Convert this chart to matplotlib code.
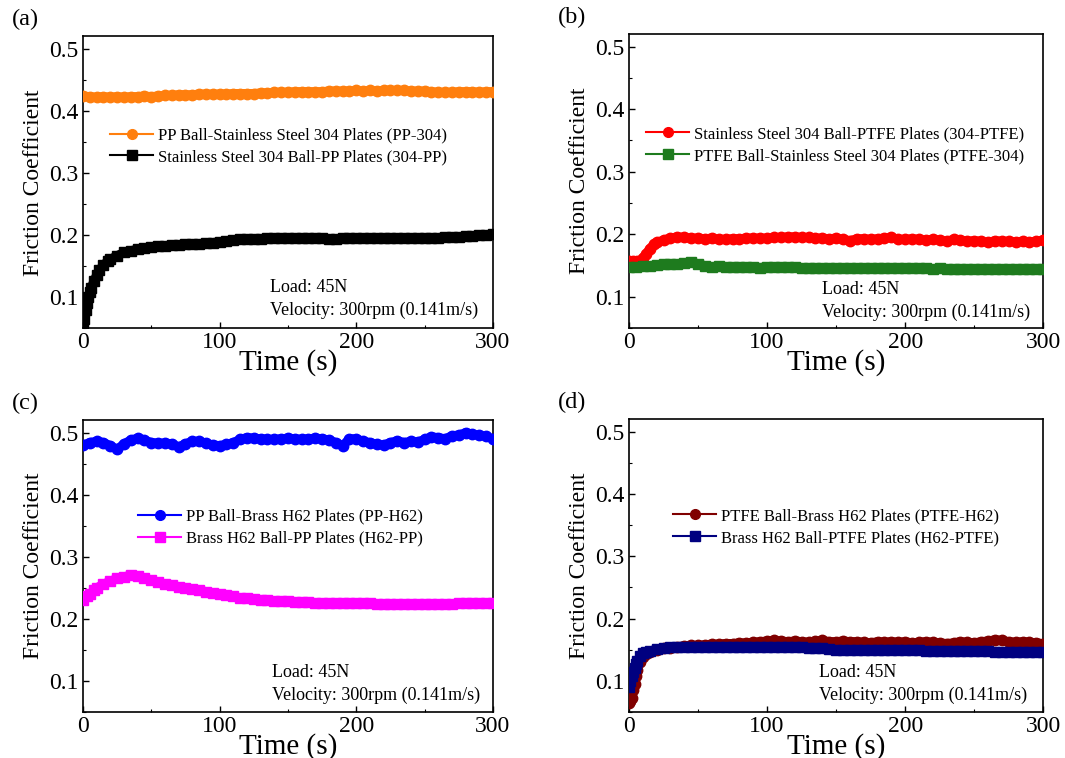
import numpy as np
import matplotlib
matplotlib.use("Agg")
import matplotlib.pyplot as plt
from matplotlib.lines import Line2D
from matplotlib.ticker import MultipleLocator

plt.rcParams['font.family'] = ['Liberation Serif', 'DejaVu Serif']
plt.rcParams['mathtext.fontset'] = 'stix'

# ---- data (time in s, friction coefficient) ----
t5 = list(range(0, 301, 5))

# (a)
pp_304 = [0.424, 0.423, 0.422, 0.423, 0.422, 0.423, 0.422, 0.423, 0.423, 0.424,
          0.423, 0.424, 0.425, 0.425, 0.426, 0.426, 0.426, 0.427, 0.427, 0.427,
          0.427, 0.427, 0.428, 0.428, 0.428, 0.428, 0.429, 0.429, 0.430, 0.430,
          0.430, 0.431, 0.431, 0.431, 0.431, 0.431, 0.432, 0.432, 0.432, 0.432,
          0.433, 0.432, 0.433, 0.432, 0.433, 0.433, 0.433, 0.433, 0.432, 0.432,
          0.432, 0.431, 0.430, 0.430, 0.430, 0.431, 0.431, 0.431, 0.430, 0.431,
          0.431]
t_304_pp = [0, 1, 2, 3, 4, 5, 6, 8, 10, 12, 15, 18, 20, 25, 30, 35, 40, 45] + list(range(50, 301, 5))
s304_pp = [0.050, 0.065, 0.080, 0.090, 0.100, 0.108, 0.115, 0.126, 0.136, 0.144,
           0.152, 0.158, 0.161, 0.167, 0.172, 0.175, 0.177, 0.179,
           0.181, 0.182, 0.183, 0.184, 0.184, 0.185, 0.185, 0.186, 0.187, 0.188,
           0.189, 0.191, 0.192, 0.193, 0.193, 0.194, 0.194, 0.195, 0.195, 0.196,
           0.196, 0.196, 0.195, 0.195, 0.195, 0.195, 0.194, 0.194, 0.195, 0.195,
           0.195, 0.195, 0.196, 0.196, 0.196, 0.196, 0.196, 0.196, 0.196, 0.196,
           0.196, 0.196, 0.196, 0.197, 0.197, 0.197, 0.198, 0.199, 0.200, 0.200,
           0.201]

# (b)
t_304_ptfe = [0, 3, 6, 8, 10, 12, 15, 18, 20, 25, 30, 35, 40, 45] + list(range(50, 301, 5))
s304_ptfe = [0.158, 0.158, 0.157, 0.158, 0.162, 0.168, 0.177, 0.184, 0.187, 0.191,
             0.194, 0.196, 0.195, 0.194,
             0.194, 0.193, 0.194, 0.192, 0.192, 0.193, 0.193, 0.194, 0.194, 0.194,
             0.194, 0.195, 0.195, 0.196, 0.196, 0.195, 0.195, 0.194, 0.194, 0.193,
             0.194, 0.192, 0.190, 0.193, 0.193, 0.192, 0.193, 0.194, 0.195, 0.192,
             0.192, 0.193, 0.192, 0.191, 0.192, 0.191, 0.189, 0.192, 0.191, 0.189,
             0.190, 0.189, 0.187, 0.190, 0.189, 0.189, 0.188, 0.189, 0.188, 0.189,
             0.191]
ptfe_304 = [0.148, 0.148, 0.149, 0.150, 0.151, 0.152, 0.152, 0.153, 0.154, 0.156,
            0.153, 0.150, 0.148, 0.149, 0.148, 0.148, 0.148, 0.148, 0.148, 0.147,
            0.148, 0.148, 0.148, 0.148, 0.148, 0.146, 0.146, 0.146, 0.146, 0.146,
            0.146, 0.146, 0.146, 0.146, 0.146, 0.146, 0.146, 0.146, 0.146, 0.146,
            0.146, 0.146, 0.146, 0.146, 0.145, 0.146, 0.145, 0.145, 0.145, 0.145,
            0.145, 0.144, 0.144, 0.144, 0.144, 0.144, 0.144, 0.144, 0.144, 0.144,
            0.144]

# (c)
pp_h62 = [0.480, 0.484, 0.486, 0.484, 0.479, 0.473, 0.482, 0.488, 0.491, 0.488,
          0.484, 0.483, 0.483, 0.482, 0.477, 0.482, 0.486, 0.486, 0.483, 0.480,
          0.479, 0.481, 0.484, 0.489, 0.492, 0.491, 0.490, 0.489, 0.489, 0.490,
          0.491, 0.490, 0.489, 0.490, 0.491, 0.490, 0.488, 0.484, 0.479, 0.490,
          0.490, 0.486, 0.484, 0.481, 0.480, 0.484, 0.487, 0.484, 0.486, 0.485,
          0.489, 0.493, 0.492, 0.490, 0.495, 0.496, 0.500, 0.497, 0.496, 0.494,
          0.490]
t_h62_pp = [0, 3, 5, 8] + list(range(10, 301, 5))
h62_pp = [0.230, 0.236, 0.240, 0.246,
          0.250, 0.256, 0.261, 0.265, 0.268, 0.270, 0.269, 0.265, 0.262, 0.259,
          0.256, 0.254, 0.252, 0.250, 0.248, 0.246, 0.244, 0.242, 0.240, 0.238,
          0.236, 0.234, 0.233, 0.232, 0.231, 0.230, 0.229, 0.228, 0.228, 0.227,
          0.227, 0.227, 0.226, 0.226, 0.225, 0.225, 0.225, 0.225, 0.225, 0.225,
          0.225, 0.224, 0.224, 0.224, 0.224, 0.224, 0.224, 0.224, 0.224, 0.224,
          0.224, 0.224, 0.224, 0.225, 0.225, 0.225, 0.225, 0.226, 0.226]

# (d)
t_early = [0, 1, 2, 3, 4, 5, 6, 8, 10, 12, 15, 20, 25, 30, 35, 40, 45] + list(range(50, 301, 5))
ptfe_h62 = [0.065, 0.068, 0.072, 0.085, 0.095, 0.108, 0.118, 0.130, 0.138, 0.143,
            0.147, 0.150, 0.152, 0.153, 0.155, 0.156, 0.157,
            0.157, 0.158, 0.159, 0.159, 0.160, 0.160, 0.161, 0.161, 0.162, 0.163,
            0.164, 0.165, 0.164, 0.163, 0.164, 0.163, 0.162, 0.164, 0.165, 0.163,
            0.163, 0.164, 0.163, 0.163, 0.162, 0.161, 0.163, 0.162, 0.163, 0.162,
            0.163, 0.161, 0.162, 0.163, 0.162, 0.161, 0.160, 0.161, 0.163, 0.162,
            0.161, 0.163, 0.164, 0.166, 0.165, 0.163, 0.162, 0.163, 0.162, 0.161,
            0.160]
h62_ptfe = [0.090, 0.100, 0.108, 0.115, 0.121, 0.127, 0.132, 0.140, 0.144, 0.146,
            0.148, 0.151, 0.153, 0.154, 0.155, 0.155, 0.155,
            0.155, 0.155, 0.155, 0.155, 0.155, 0.155, 0.155, 0.155, 0.155, 0.155,
            0.155, 0.155, 0.155, 0.155, 0.154, 0.154, 0.153, 0.152, 0.152, 0.151,
            0.150, 0.150, 0.150, 0.150, 0.150, 0.149, 0.149, 0.149, 0.149, 0.149,
            0.149, 0.149, 0.149, 0.148, 0.148, 0.148, 0.148, 0.148, 0.148, 0.148,
            0.148, 0.148, 0.148, 0.147, 0.147, 0.147, 0.147, 0.147, 0.147, 0.147,
            0.147]

panels = [
    ('(a)', [(t5, pp_304, '#FF7F0E', 'o', 'PP Ball-Stainless Steel 304 Plates (PP-304)'),
             (t_304_pp, s304_pp, '#000000', 's', 'Stainless Steel 304 Ball-PP Plates (304-PP)')],
     [0.0779, 0.567, 0.385, 0.385], (0.066, 0.623), (0.456, 0.14, 0.062)),
    ('(b)', [(t_304_ptfe, s304_ptfe, '#FF0000', 'o', 'Stainless Steel 304 Ball-PTFE Plates (304-PTFE)'),
             (t5, ptfe_304, '#1E7B1E', 's', 'PTFE Ball-Stainless Steel 304 Plates (PTFE-304)')],
     [0.5906, 0.567, 0.389, 0.388], (0.041, 0.623), (0.466, 0.13, 0.055)),
    ('(c)', [(t5, pp_h62, '#0000FF', 'o', 'PP Ball-Brass H62 Plates (PP-H62)'),
             (t_h62_pp, h62_pp, '#FF00FF', 's', 'Brass H62 Ball-PP Plates (H62-PP)')],
     [0.0779, 0.0607, 0.385, 0.385], (0.134, 0.632), (0.46, 0.134, 0.058)),
    ('(d)', [(t_early, ptfe_h62, '#800000', 'o', 'PTFE Ball-Brass H62 Plates (PTFE-H62)'),
             (t_early, h62_ptfe, '#000080', 's', 'Brass H62 Ball-PTFE Plates (H62-PTFE)')],
     [0.5906, 0.0607, 0.389, 0.386], (0.106, 0.632), (0.459, 0.134, 0.058)),
]

fig = plt.figure(figsize=(10.65, 7.58), dpi=100)

for tag, series, rect, leg_xy, txt in panels:
    ax = fig.add_axes(rect)
    handles = []
    for x, y, c, m, lab in series:
        ax.plot(x, y, color=c, lw=6.5, marker=m, ms=7.5, mec=c, mfc=c,
                solid_capstyle='round', solid_joinstyle='round', zorder=3)
        handles.append(Line2D([0], [0], color=c, lw=1.5, marker=m, ms=7,
                              mec=c, mfc=c, label=lab))
    ax.set_xlim(0, 300)
    ax.set_ylim(0.05, 0.52)
    ax.set_xticks([0, 100, 200, 300])
    ax.set_yticks([0.1, 0.2, 0.3, 0.4, 0.5])
    ax.set_yticklabels(['0.1', '0.2', '0.3', '0.4', '0.5'])
    ax.xaxis.set_minor_locator(MultipleLocator(50))
    ax.yaxis.set_minor_locator(MultipleLocator(0.05))
    ax.tick_params(which='both', direction='in', labelsize=17, pad=3)
    ax.tick_params(which='major', length=4, width=1)
    ax.tick_params(which='minor', length=2.5, width=0.8)
    for sp in ax.spines.values():
        sp.set_linewidth(1.2)
    ax.set_xlabel('Time (s)', fontsize=21, labelpad=-3)
    ax.set_ylabel('Friction Coefficient', fontsize=17, labelpad=4)
    ax.legend(handles=handles, loc='center left', bbox_to_anchor=leg_xy,
              frameon=False, fontsize=12, handlelength=2.6, handletextpad=0.3,
              labelspacing=0.35, borderpad=0, borderaxespad=0)
    tx, ty1, ty2 = txt
    ax.text(tx, ty1, 'Load: 45N', transform=ax.transAxes, fontsize=13, va='center')
    ax.text(tx, ty2, 'Velocity: 300rpm (0.141m/s)', transform=ax.transAxes,
            fontsize=13, va='center')
    # panel tag in figure coordinates, above the axes' top-left corner
    fig.text(rect[0] - 0.067, rect[1] + rect[3] + 0.022, tag, fontsize=17.5, va='center')

fig.savefig('out.png', dpi=100)
